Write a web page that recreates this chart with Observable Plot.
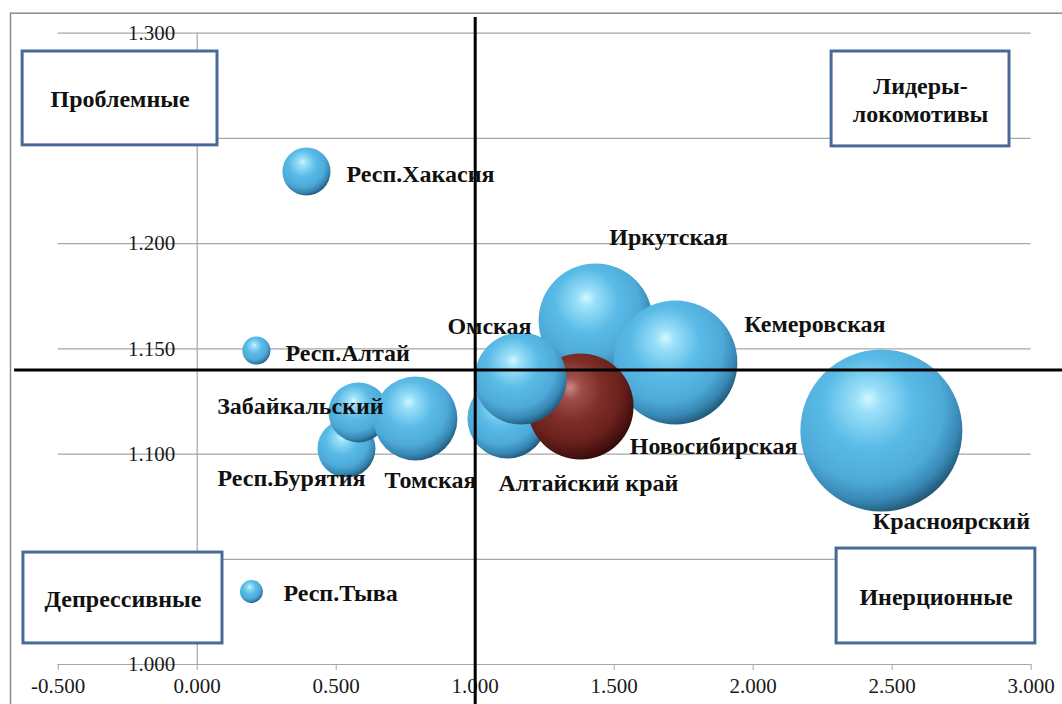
<!DOCTYPE html>
<html>
<head>
<meta charset="utf-8">
<script src="https://cdn.jsdelivr.net/npm/d3@7"></script>
<script src="https://cdn.jsdelivr.net/npm/@observablehq/plot@0.6"></script>
<style>
  html, body { margin: 0; padding: 0; background: #fff; }
</style>
</head>
<body>
<div id="chart"></div>
<script>
// ---- Data ----
const regions = ["Красноярский", "Иркутская", "Кемеровская", "Алтайский край", "Новосибирская", "Омская",
                 "Респ.Бурятия", "Забайкальский", "Томская", "Респ.Хакасия", "Респ.Алтай", "Респ.Тыва"];
const xValues = [2.461, 1.433, 1.720, 1.116, 1.379, 1.163, 0.537, 0.580, 0.785, 0.393, 0.213, 0.195];
const yValues = [1.1112, 1.1635, 1.1435, 1.1169, 1.1226, 1.1359, 1.1027, 1.1198, 1.1169, 1.2343, 1.1492, 1.0347];
const sizes   = [100, 49.5, 58.6, 24.4, 42.8, 32.3, 12.8, 13.7, 26.9, 8.8, 3.0, 2.0];
const highlighted = "Новосибирская";

const xTicks = [-0.5, 0, 0.5, 1.0, 1.5, 2.0, 2.5, 3.0];
const yTicks = [1.0, 1.05, 1.1, 1.15, 1.2, 1.25, 1.3];
const yLabelTicks = [1.0, 1.1, 1.15, 1.2, 1.3];

const quadrantX = 1.0;
const quadrantY = 1.14;

const quadrantNames = ["Проблемные", "Лидеры-\nлокомотивы", "Депрессивные", "Инерционные"];

// ---- Layout (annotation placement) ----
const quadrantBoxes = [
  [-0.628, 0.073, 1.2467, 1.2913],
  [2.282, 2.922, 1.2462, 1.2913],
  [-0.625, 0.091, 1.0100, 1.0532],
  [2.300, 3.015, 1.0100, 1.0551]
];
const labelLayout = {
  "Красноярский":   ["middle", 70, 91],
  "Иркутская":      ["middle", 73, -83],
  "Кемеровская":    ["start", 69, -38],
  "Алтайский край": ["middle", 81, 65],
  "Новосибирская":  ["middle", 133, 40],
  "Омская":         ["middle", -31, -52],
  "Респ.Бурятия":   ["middle", -55, 30],
  "Забайкальский":  ["middle", -58, -6],
  "Томская":        ["middle", 15, 62],
  "Респ.Хакасия":   ["start", 40, 3],
  "Респ.Алтай":     ["start", 29, 3],
  "Респ.Тыва":      ["start", 32, 2]
};

const data = regions.map((name, i) => ({
  name, x: xValues[i], y: yValues[i], size: sizes[i],
  fill: name === highlighted ? "url(#sphereRed)" : "url(#sphereBlue)"
}));
const boxes = quadrantNames.map((label, i) => ({
  label, x1: quadrantBoxes[i][0], x2: quadrantBoxes[i][1], y1: quadrantBoxes[i][2], y2: quadrantBoxes[i][3]
}));

const font = "'Liberation Serif', 'Times New Roman', serif";
const gridColor = "#a6a6a6";
const fmt = d => d.toFixed(3);

const labelMarks = data.map(d => {
  const [anchor, dx, dy] = labelLayout[d.name];
  return Plot.text([d], {
    x: "x", y: "y", text: "name", textAnchor: anchor, dx, dy,
    fontFamily: font, fontSize: 24, fontWeight: "bold", fill: "#111"
  });
});

const plot = Plot.plot({
  width: 1062,
  height: 704,
  marginLeft: 57.7,
  marginRight: 31.3,
  marginTop: 32.7,
  marginBottom: 40,
  style: { fontFamily: font, fontSize: "21px", background: "#fff", color: "#1a1a1a" },
  x: { domain: [-0.5, 3.0] },
  y: { domain: [1.0, 1.3] },
  r: { type: "sqrt", domain: [0, 100], range: [0, 81] },
  color: { type: "identity" },
  marks: [
    Plot.frame({ stroke: "#8c8c8c", strokeWidth: 1.5, insetLeft: -47.7, insetTop: -20, insetRight: -80, insetBottom: -80 }),
    Plot.gridY(yTicks, { stroke: gridColor, strokeOpacity: 1, strokeWidth: 1.2 }),
    Plot.ruleX([0], { y1: 1.0, y2: 1.3, stroke: gridColor, strokeWidth: 1.2 }),
    Plot.ruleY([1.0], { stroke: gridColor, strokeWidth: 1.2 }),
    Plot.axisX({ ticks: xTicks, tickFormat: fmt, tickSize: 6, tickPadding: 8, stroke: gridColor, fontSize: 21, fill: "#1a1a1a" }),
    Plot.axisY({ ticks: yLabelTicks, tickFormat: fmt, tickSize: 0, tickPadding: 3, dx: 120, fontSize: 21, fill: "#1a1a1a" }),
    Plot.dot(data, { x: "x", y: "y", r: "size", fill: "fill", stroke: null, sort: null }),
    Plot.ruleX([quadrantX], { y1: 0.98, y2: 1.3075, stroke: "#000", strokeWidth: 3 }),
    Plot.ruleY([quadrantY], { x1: -0.657, x2: 3.2, stroke: "#000", strokeWidth: 3 }),
    ...labelMarks,
    Plot.rect(boxes, { x1: "x1", x2: "x2", y1: "y1", y2: "y2", fill: "#fff", stroke: "#4a6a96", strokeWidth: 3 }),
    Plot.text(boxes, { x: d => (d.x1 + d.x2) / 2, y: d => (d.y1 + d.y2) / 2, text: "label",
      fontFamily: font, fontSize: 24, fontWeight: "bold", fill: "#111", lineHeight: 1.17 })
  ]
});

plot.insertAdjacentHTML("afterbegin", `
<defs>
  <radialGradient id="sphereBlue" cx="0.42" cy="0.38" r="0.66" fx="0.42" fy="0.3">
    <stop offset="0" stop-color="#d4f7ff"/>
    <stop offset="0.12" stop-color="#9be0f9"/>
    <stop offset="0.42" stop-color="#5abbe7"/>
    <stop offset="0.7" stop-color="#4eaad8"/>
    <stop offset="0.86" stop-color="#3787b4"/>
    <stop offset="1" stop-color="#1c4c66"/>
  </radialGradient>
  <radialGradient id="sphereRed" cx="0.42" cy="0.38" r="0.66" fx="0.4" fy="0.32">
    <stop offset="0" stop-color="#c98a86"/>
    <stop offset="0.15" stop-color="#a04f49"/>
    <stop offset="0.45" stop-color="#7d2d27"/>
    <stop offset="0.7" stop-color="#6c221d"/>
    <stop offset="0.86" stop-color="#4e1411"/>
    <stop offset="1" stop-color="#2a0807"/>
  </radialGradient>
</defs>`);

document.getElementById("chart").appendChild(plot);
</script>
</body>
</html>
